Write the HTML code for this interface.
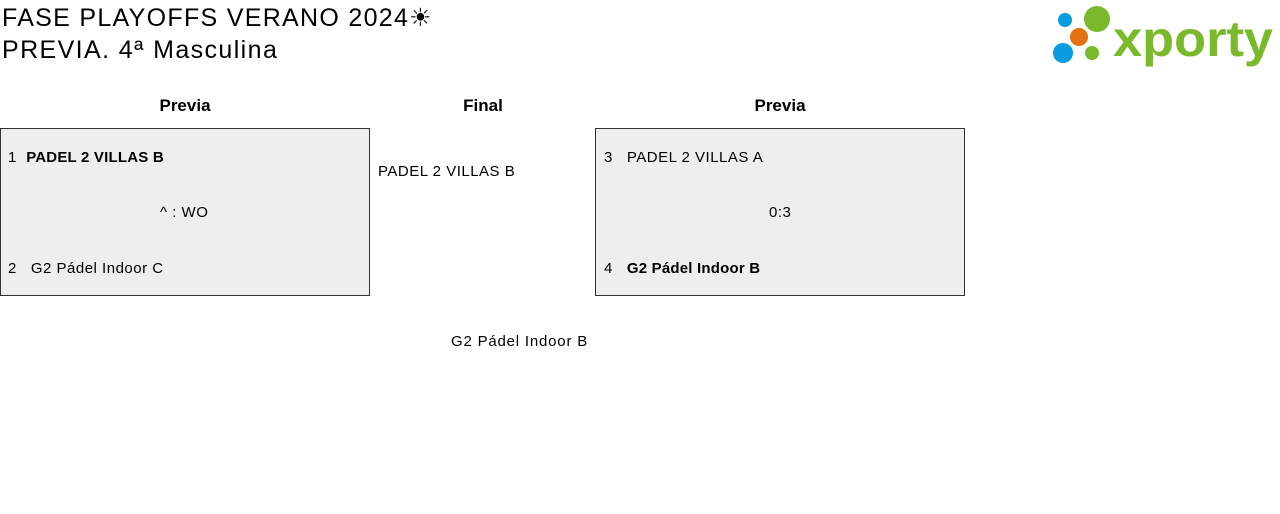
<!DOCTYPE html>
<html><head><meta charset="utf-8"><style>
body{margin:0;width:1280px;height:514px;background:#fff;font-family:"Liberation Sans",sans-serif;color:#000;position:relative;overflow:hidden}
.a{position:absolute;white-space:nowrap}
.t{font-size:25px;line-height:32px;left:2px;letter-spacing:1.3px}
.h{font-size:17px;font-weight:bold;top:96px;transform:translateX(-50%)}
.box{position:absolute;top:128px;width:368px;height:166px;border:1px solid #333;background:#eee}
.s{font-size:15px;letter-spacing:0.5px}
</style></head><body>
<div class="a t" style="top:2px">FASE PLAYOFFS VERANO 2024☀</div>
<div class="a t" style="top:34px;letter-spacing:1.4px">PREVIA. 4ª Masculina</div>
<svg class="a" style="left:1040px;top:0" width="240" height="70">
<circle cx="25" cy="20" r="7" fill="#0a9be0"/>
<circle cx="57" cy="19" r="13" fill="#7ab92b"/>
<circle cx="39" cy="37" r="9" fill="#e5700f"/>
<circle cx="23" cy="53" r="10" fill="#0a9be0"/>
<circle cx="52" cy="53" r="7" fill="#7ab92b"/>
<text x="73" y="56" font-family="Liberation Sans" font-weight="bold" font-size="50" fill="#7ab92b" textLength="160" lengthAdjust="spacingAndGlyphs">xporty</text>
</svg>
<div class="a h" style="left:185px">Previa</div>
<div class="a h" style="left:483px">Final</div>
<div class="a h" style="left:780px">Previa</div>
<div class="box" style="left:0"></div>
<div class="box" style="left:595px"></div>
<div class="a s" style="left:8px;top:149px">1&nbsp;&nbsp;<b style="letter-spacing:0.2px">PADEL 2 VILLAS B</b></div>
<div class="a s" style="left:160px;top:204px">^ : WO</div>
<div class="a s" style="left:8px;top:260px">2&nbsp;&nbsp;&nbsp;G2 Pádel Indoor C</div>
<div class="a s" style="left:604px;top:149px">3&nbsp;&nbsp;&nbsp;PADEL 2 VILLAS A</div>
<div class="a s" style="left:769px;top:204px">0:3</div>
<div class="a s" style="left:604px;top:260px">4&nbsp;&nbsp;&nbsp;<b style="letter-spacing:0.2px">G2 Pádel Indoor B</b></div>
<div class="a s" style="left:378px;top:163px">PADEL 2 VILLAS B</div>
<div class="a s" style="left:451px;top:333px;letter-spacing:0.8px">G2 Pádel Indoor B</div>
</body></html>
